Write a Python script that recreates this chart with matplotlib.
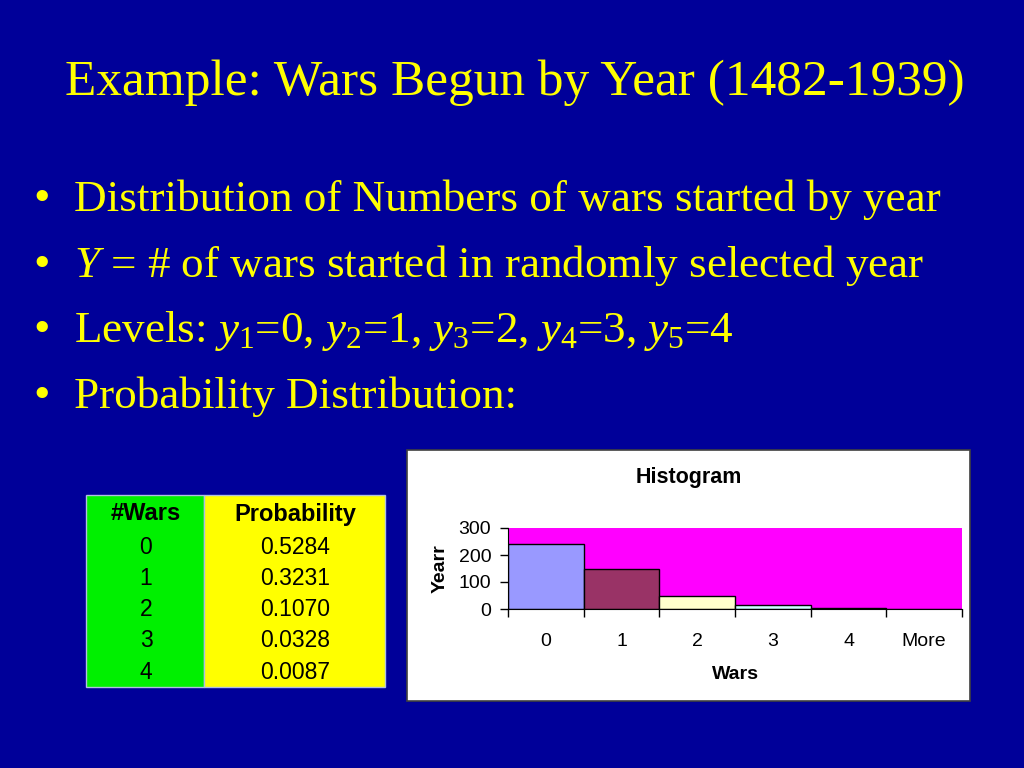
import matplotlib
matplotlib.use("Agg")
import matplotlib.pyplot as plt
from matplotlib.patches import Rectangle

# data
wars = [0, 1, 2, 3, 4]
probability = [0.5284, 0.3231, 0.1070, 0.0328, 0.0087]
bins = ["0", "1", "2", "3", "4", "More"]
years_count = [242, 148, 49, 15, 4, 0]
bar_colors = ["#9999FF", "#993366", "#FFFFCC", "#CCFFFF", "#660066", "#FFFFFF"]

bg = "#000099"
yellow = "#FFFF00"

plt.rcParams["mathtext.fontset"] = "custom"
plt.rcParams["mathtext.rm"] = "Liberation Serif"
plt.rcParams["mathtext.it"] = "Liberation Serif:italic"

W, H = 1024, 768
fig = plt.figure(figsize=(W / 100, H / 100), dpi=100, facecolor=bg)


def fx(x):
    return x / W


def fy(y):
    return 1 - y / H


serif = "Liberation Serif"
sans = "Liberation Sans"

# title
fig.text(fx(515), fy(95), "Example: Wars Begun by Year (1482-1939)", color=yellow,
         fontsize=37, family=serif, ha="center", va="baseline")

# bullets
bullets = [
    "Distribution of Numbers of wars started by year",
    "$Y$ = # of wars started in randomly selected year",
    "Levels: $y_1$=0, $y_2$=1, $y_3$=2, $y_4$=3, $y_5$=4",
    "Probability Distribution:",
]
for i, line in enumerate(bullets):
    yb = 211 + i * 65.7
    fig.text(fx(42), fy(yb), "\u2022", color=yellow, fontsize=34, family=serif,
             ha="center", va="baseline")
    fig.text(fx(74), fy(yb), line, color=yellow, fontsize=32.5, family=serif,
             ha="left", va="baseline")

# table
tx0, tx1, tx2 = 86, 204, 385
ty0, ty1 = 495, 687
fig.patches.append(Rectangle((fx(tx0), fy(ty1)), fx(tx1 - tx0), (ty1 - ty0) / H,
                             transform=fig.transFigure, facecolor="#00F000",
                             edgecolor="#B0C0E0", lw=1))
fig.patches.append(Rectangle((fx(tx1), fy(ty1)), fx(tx2 - tx1), (ty1 - ty0) / H,
                             transform=fig.transFigure, facecolor="#FFFF00",
                             edgecolor="#B0C0E0", lw=1))
fig.text(fx(146), fy(514), "#Wars", fontsize=17, family=sans, weight="bold",
         ha="center", va="center")
fig.text(fx(295), fy(514), "Probability", fontsize=17, family=sans, weight="bold",
         ha="center", va="center")
for i, (w, p) in enumerate(zip(wars, probability)):
    yy = 547 + i * 31.3
    fig.text(fx(146), fy(yy), str(w), fontsize=16.5, family=sans, ha="center", va="center")
    fig.text(fx(295), fy(yy), f"{p:.4f}", fontsize=16.5, family=sans, ha="center", va="center")

# chart box
fig.patches.append(Rectangle((fx(407), fy(701)), fx(970 - 407), (701 - 450) / H,
                             transform=fig.transFigure, facecolor="white",
                             edgecolor="#404040", lw=1.2))
fig.text(fx(689), fy(477), "Histogram", fontsize=15.5, family=sans, weight="bold",
         ha="center", va="center")

ax = fig.add_axes([fx(508), fy(609), fx(962 - 508), (609 - 528) / H])
ax.set_zorder(3)
ax.set_facecolor("#FF00FF")
pos = list(range(len(bins)))
ax.bar(pos, years_count, width=1.0, color=bar_colors, edgecolor="black", linewidth=1)
ax.set_xlim(-0.5, len(bins) - 0.5)
ax.set_ylim(0, 300)
ax.set_yticks([0, 100, 200, 300])
ax.tick_params(axis="y", labelsize=14, length=6, width=1, pad=6)
for lab in ax.get_yticklabels():
    lab.set_family(sans)
ax.set_xticks([p - 0.5 for p in pos] + [len(bins) - 0.5])
ax.set_xticklabels([])
ax.set_xticks(pos, minor=True)
ax.set_xticklabels(bins, minor=True, fontsize=14, family=sans)
ax.tick_params(axis="x", which="major", length=6, width=1)
ax.tick_params(axis="x", which="minor", length=0, pad=17)
for s in ["top", "right"]:
    ax.spines[s].set_visible(False)
ax.set_xlabel("Wars", fontsize=14, family=sans, weight="bold", labelpad=12)
ax.set_ylabel("Yearr", fontsize=14, family=sans, weight="bold", labelpad=7)

fig.savefig("out.png", dpi=100, facecolor=bg)
